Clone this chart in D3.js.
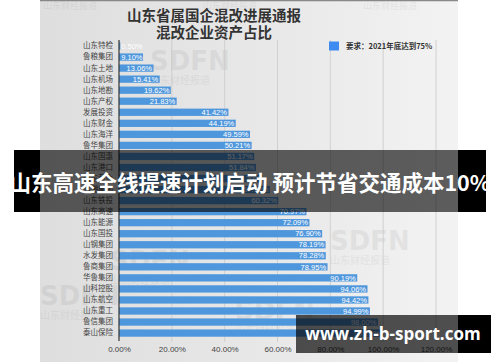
<!DOCTYPE html>
<html lang="zh">
<head>
<meta charset="UTF-8">
<title>山东省属国企混改进展通报</title>
<script src="https://d3js.org/d3.v7.min.js"></script>
<style>
  html, body { margin: 0; padding: 0; background: #fff; }
  svg { display: block; }
</style>
</head>
<body>
<script>
const width = 500
const height = 362

// 企业 / 混改企业资产占比(%)
const companies = ["山东特检","鲁粮集团","山东土地","山东机场","山东地勘","山东产权","发展投资","山东财金",
  "山东海洋","鲁华集团","山东国惠","山东港口","山东黄金","浪潮集团","山东铁投","山东高速","山东能源",
  "山东国投","山钢集团","水发集团","鲁商集团","华鲁集团","山科控股","山东航空","山东重工","鲁信集团","泰山保险"]
const shares = [0.50, 9.10, 13.06, 15.41, 19.62, 21.83, 41.42, 44.19, 49.59, 50.21, 51.17, 51.84, 54.20, 57.10,
  60.32, 70.97, 72.09, 76.90, 78.19, 78.28, 78.95, 90.19, 94.06, 94.42, 94.99, 98.00, 99.20]
const xTicks = [0, 20, 40, 60, 80, 100, 120]
const titleLines = ["山东省属国企混改进展通报", "混改企业资产占比"]
const legendText = "要求：2021年底达到75%"
const bannerText = "山东高速全线提速计划启动 预计节省交通成本10%"
const siteText = "www.zh-b-sport.com"

const svg = d3.select("body").append("svg")
    .attr("width", width).attr("height", height)
    .attr("viewBox", `0 0 ${width} ${height}`)

const defs = svg.append("defs")
const grad = defs.append("linearGradient").attr("id", "bg").attr("x1", 0).attr("x2", 1).attr("y1", 0).attr("y2", 0)
grad.append("stop").attr("offset", "0%").attr("stop-color", "#dedede")
grad.append("stop").attr("offset", "55%").attr("stop-color", "#e8e8e8")
grad.append("stop").attr("offset", "100%").attr("stop-color", "#f3f3f3")

// photographed chart area
const photoL = 40, photoR = 458
svg.append("rect").attr("x", photoL).attr("y", 0).attr("width", photoR - photoL).attr("height", height)
    .attr("fill", "url(#bg)")
svg.append("line").attr("x1", photoL).attr("x2", photoR).attr("y1", 0.5).attr("y2", 0.5)
    .attr("stroke", "#888").attr("stroke-width", 1.5)

// faint watermarks
const wm = svg.append("g").attr("fill", "#000").attr("opacity", 0.05)
    .style("font-family", "'Noto Sans CJK SC', sans-serif")
;[[70, 9], [230, 9], [390, 9]].forEach(([x, y]) => {
  wm.append("text").attr("x", x).attr("y", y).attr("text-anchor", "middle")
      .attr("font-size", 9).text("山东财经报道")
})
;[[150, 70], [110, 270], [330, 250], [235, 320], [40, 305]].forEach(([x, y]) => {
  wm.append("text").attr("x", x).attr("y", y).attr("font-size", 26).attr("font-weight", "bold")
      .style("font-family", "'DejaVu Sans', sans-serif").text("SDFN")
  wm.append("text").attr("x", x).attr("y", y + 14).attr("font-size", 10).text("山东财经报道")
})

const x = d3.scaleLinear().domain([0, 120]).range([119, 436])
const y = d3.scaleBand().domain(companies).range([40.5, 338.6]).paddingInner(0.34).paddingOuter(0.17)

// gridlines
svg.append("g").selectAll("line").data(xTicks.slice(1)).join("line")
    .attr("x1", d => x(d)).attr("x2", d => x(d))
    .attr("y1", 40).attr("y2", 342)
    .attr("stroke", "#c9c9c9").attr("stroke-width", 0.8)

// bars
svg.append("g").selectAll("rect").data(companies).join("rect")
    .attr("x", x(0)).attr("y", d => y(d))
    .attr("width", (d, i) => x(shares[i]) - x(0))
    .attr("height", y.bandwidth())
    .attr("fill", "#4f97dc")

// value labels
svg.append("g").selectAll("text").data(companies).join("text")
    .attr("x", (d, i) => Math.max(x(shares[i]), x(0) + 25) - 1.5)
    .attr("y", d => y(d) + y.bandwidth() / 2)
    .attr("dy", "0.36em")
    .attr("text-anchor", "end")
    .attr("fill", "#fff")
    .attr("font-size", 7.5)
    .style("font-family", "'Liberation Sans', Arial, sans-serif")
    .text((d, i) => shares[i].toFixed(2) + "%")

// y axis
const yAxis = svg.append("g").attr("transform", `translate(${x(0)},0)`)
    .call(d3.axisLeft(y).tickSize(0).tickPadding(6))
yAxis.select(".domain").remove()
yAxis.selectAll("text").attr("fill", "#444").attr("font-size", 7.5)
    .style("font-family", "'Noto Sans CJK SC', sans-serif")
svg.append("line").attr("x1", x(0)).attr("x2", x(0)).attr("y1", 40).attr("y2", 341)
    .attr("stroke", "#333").attr("stroke-width", 1.2)

// x axis
const xAxis = svg.append("g").attr("transform", "translate(0,343)")
    .call(d3.axisBottom(x).tickValues(xTicks).tickSize(0).tickPadding(3)
      .tickFormat(d => d.toFixed(2) + "%"))
xAxis.select(".domain").remove()
xAxis.selectAll("text").attr("fill", "#444").attr("font-size", 8)
    .style("font-family", "'Liberation Sans', Arial, sans-serif")

// title
svg.append("g").selectAll("text").data(titleLines).join("text")
    .attr("x", 214).attr("y", (d, i) => 21 + i * 17)
    .attr("text-anchor", "middle")
    .attr("font-size", 14.5).attr("font-weight", "bold").attr("fill", "#333")
    .style("font-family", "'Noto Sans CJK SC', sans-serif")
    .text(d => d)

// legend
svg.append("rect").attr("x", 329).attr("y", 41.5).attr("width", 10).attr("height", 9)
    .attr("fill", "#3d8bf0")
svg.append("text").attr("x", 346).attr("y", 49)
    .attr("font-size", 7.5).attr("font-weight", "bold").attr("fill", "#333")
    .style("font-family", "'Noto Sans CJK SC', sans-serif")
    .text(legendText)

// headline banner: solid black outside the photo, translucent over it
svg.append("rect").attr("x", 14).attr("y", 150).attr("width", photoL - 14).attr("height", 62).attr("fill", "#000")
svg.append("rect").attr("x", photoR).attr("y", 150).attr("width", 486 - photoR).attr("height", 62).attr("fill", "#000")
svg.append("rect").attr("x", photoL).attr("y", 150).attr("width", photoR - photoL).attr("height", 62)
    .attr("fill", "#000").attr("opacity", 0.62)
svg.append("text").attr("x", 250).attr("y", 191)
    .attr("text-anchor", "middle")
    .attr("font-size", 21.5).attr("font-weight", "bold").attr("fill", "#fff")
    .style("font-family", "'Noto Sans CJK SC', sans-serif")
    .text(bannerText)

// site badge
svg.append("rect").attr("x", 296).attr("y", 315).attr("width", photoR - 296).attr("height", 38)
    .attr("fill", "#000").attr("opacity", 0.68)
svg.append("rect").attr("x", photoR).attr("y", 315).attr("width", 491 - photoR).attr("height", 38)
    .attr("fill", "#000")
svg.append("text").attr("x", 393).attr("y", 340)
    .attr("text-anchor", "middle")
    .attr("font-size", 17).attr("font-weight", "bold").attr("fill", "#fff")
    .style("font-family", "'Open Sans', sans-serif")
    .text(siteText)
</script>
</body>
</html>
